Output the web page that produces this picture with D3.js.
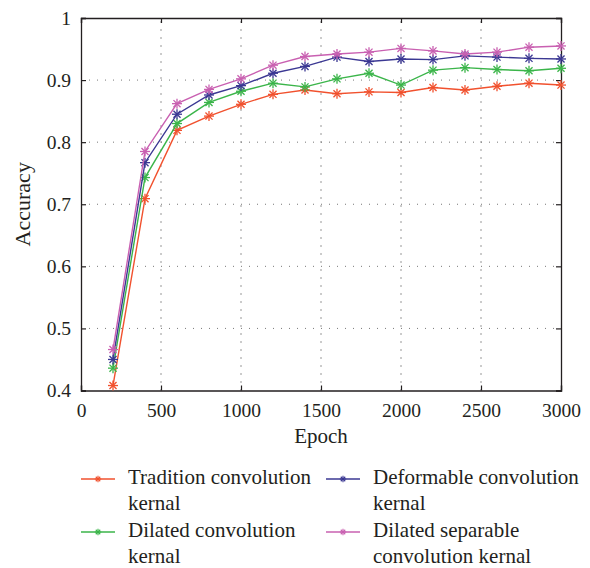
<!DOCTYPE html>
<html>
<head>
<meta charset="utf-8">
<script src="https://cdn.jsdelivr.net/npm/d3@7"></script>
<style>
  html, body { margin: 0; padding: 0; background: #fff; }
  svg text { font-family: "Liberation Serif", "Times New Roman", serif; fill: #231f20; }
</style>
</head>
<body>
<svg id="chart" width="590" height="568"></svg>
<script>
const epochs = [200, 400, 600, 800, 1000, 1200, 1400, 1600, 1800, 2000, 2200, 2400, 2600, 2800, 3000];
const traditionKernel = [0.408, 0.709, 0.819, 0.842, 0.861, 0.877, 0.884, 0.878, 0.881, 0.880, 0.888, 0.884, 0.890, 0.895, 0.892];
const dilatedKernel = [0.436, 0.743, 0.830, 0.864, 0.882, 0.895, 0.889, 0.902, 0.911, 0.892, 0.916, 0.920, 0.917, 0.915, 0.919];
const deformableKernel = [0.450, 0.767, 0.845, 0.876, 0.891, 0.911, 0.922, 0.937, 0.930, 0.934, 0.933, 0.939, 0.937, 0.935, 0.934];
const dilatedSeparableKernel = [0.466, 0.785, 0.862, 0.885, 0.902, 0.924, 0.938, 0.942, 0.945, 0.951, 0.947, 0.942, 0.945, 0.953, 0.955];
const seriesNames = [["Tradition convolution", "kernal"], ["Dilated convolution", "kernal"], ["Deformable convolution", "kernal"], ["Dilated separable", "convolution kernal"]];
const seriesColors = ["#f1512e", "#3bb54a", "#3b3893", "#c960b1"];
const xTicks = [0, 500, 1000, 1500, 2000, 2500, 3000];
const yTicks = [0.4, 0.5, 0.6, 0.7, 0.8, 0.9, 1];

const seriesValues = [traditionKernel, dilatedKernel, deformableKernel, dilatedSeparableKernel];

const svg = d3.select("#chart");
const pLeft = 81, pRight = 561, pTop = 18, pBottom = 390.5;
const x = d3.scaleLinear().domain([0, 3000]).range([pLeft, pRight]);
const y = d3.scaleLinear().domain([0.4, 1]).range([pBottom, pTop]);

// grid
const grid = svg.append("g");
xTicks.slice(1, -1).forEach(t => {
  grid.append("line").attr("x1", x(t)).attr("x2", x(t)).attr("y1", pBottom).attr("y2", pTop)
    .attr("stroke", "#333").attr("stroke-width", 1).attr("stroke-dasharray", "1,7");
});
yTicks.slice(1, -1).forEach(t => {
  grid.append("line").attr("x1", pLeft).attr("x2", pRight).attr("y1", y(t)).attr("y2", y(t))
    .attr("stroke", "#777").attr("stroke-width", 1).attr("stroke-dasharray", "1,7");
});

// axes (box with inner ticks)
const fmtY = d => d === 1 ? "1" : d3.format(".1f")(d);
const axB = svg.append("g").attr("transform", `translate(0,${pBottom})`)
  .call(d3.axisBottom(x).tickValues(xTicks).tickSize(-5).tickPadding(9).tickFormat(d3.format("d")));
const axT = svg.append("g").attr("transform", `translate(0,${pTop})`)
  .call(d3.axisTop(x).tickValues(xTicks).tickSize(-5).tickFormat(""));
const axL = svg.append("g").attr("transform", `translate(${pLeft},0)`)
  .call(d3.axisLeft(y).tickValues(yTicks).tickSize(-5).tickPadding(10).tickFormat(fmtY));
const axR = svg.append("g").attr("transform", `translate(${pRight},0)`)
  .call(d3.axisRight(y).tickValues(yTicks).tickSize(-5).tickFormat(""));
[axB, axT, axL, axR].forEach(g => {
  g.selectAll("path.domain").attr("stroke", "#231f20").attr("stroke-width", 1.3);
  g.selectAll(".tick line").attr("stroke", "#231f20").attr("stroke-width", 1.2);
  g.selectAll(".tick text").style("font-size", "19.5px").attr("fill", "#231f20");
});
axB.selectAll(".tick text").attr("dy", "0.9em");
axL.selectAll(".tick text").attr("dy", "0.33em");

// axis titles
svg.append("text").attr("x", (pLeft + pRight) / 2).attr("y", 443).attr("text-anchor", "middle")
  .style("font-size", "21px").text("Epoch");
svg.append("text").attr("transform", `translate(30,${(pTop + pBottom) / 2}) rotate(-90)`)
  .attr("text-anchor", "middle").style("font-size", "22px").text("Accuracy");

// asterisk marker
function star(g, cx, cy, r, color, w) {
  for (let i = 0; i < 4; i++) {
    const a = i * Math.PI / 4;
    g.append("line")
      .attr("x1", cx - r * Math.cos(a)).attr("y1", cy - r * Math.sin(a))
      .attr("x2", cx + r * Math.cos(a)).attr("y2", cy + r * Math.sin(a))
      .attr("stroke", color).attr("stroke-width", w);
  }
}

const line = d3.line().x((d, i) => x(epochs[i])).y(d => y(d));
seriesValues.forEach((vals, si) => {
  const g = svg.append("g");
  g.append("path").attr("d", line(vals)).attr("fill", "none")
    .attr("stroke", seriesColors[si]).attr("stroke-width", 1.4);
  vals.forEach((v, i) => star(g, x(epochs[i]), y(v), 5, seriesColors[si], 1.3));
});

// legend
const legPos = [[81, 479], [81, 532], [326, 479], [326, 532]];
seriesNames.forEach((nm, si) => {
  const [lx, ly] = legPos[si];
  const g = svg.append("g");
  g.append("line").attr("x1", lx).attr("x2", lx + 34).attr("y1", ly).attr("y2", ly)
    .attr("stroke", seriesColors[si]).attr("stroke-width", 1.4);
  star(g, lx + 17, ly, 3.2, seriesColors[si], 1.1);
  const t = g.append("text").attr("x", lx + 47).attr("y", ly + 5).style("font-size", "21px");
  t.append("tspan").attr("x", lx + 47).text(nm[0]);
  t.append("tspan").attr("x", lx + 47).attr("dy", 26).text(nm[1]);
});
</script>
</body>
</html>
